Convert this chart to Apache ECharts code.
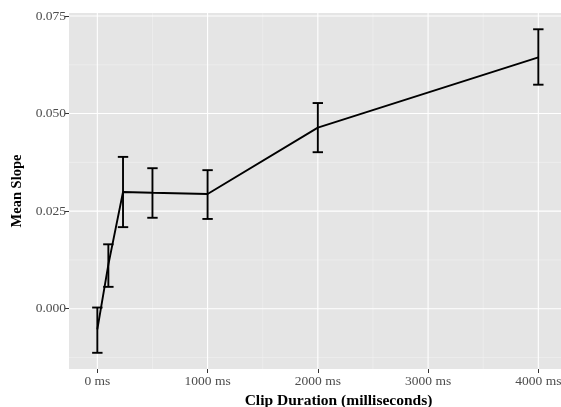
<!DOCTYPE html>
<html>
<head>
<meta charset="utf-8">
<script src="https://cdn.jsdelivr.net/npm/echarts@6/dist/echarts.min.js"></script>
<style>
html,body{margin:0;padding:0;background:#fff;}
#chart{width:561px;height:407px;}
</style>
</head>
<body>
<div id="chart"></div>
<script>
// Data
const durations = [0, 100, 233, 500, 1000, 2000, 4000];
const meanSlope = [-0.0053, 0.0113, 0.0299, 0.0297, 0.0294, 0.0464, 0.0644];
const lowerCI   = [-0.0113, 0.0056, 0.0209, 0.0233, 0.0230, 0.0401, 0.0574];
const upperCI   = [ 0.0003, 0.0165, 0.0389, 0.0360, 0.0355, 0.0527, 0.0716];

const xTicks = [0, 1000, 2000, 3000, 4000];
const xMinor = [500, 1500, 2500, 3500];
const yTicks = [0, 0.025, 0.05, 0.075];
const yMinor = [-0.0125, 0.0125, 0.0375, 0.0625];

const X_MIN = -257, X_MAX = 4632;
const Y_MIN = -0.01545, Y_MAX = 0.07577;

const chart = echarts.init(document.getElementById('chart'), null, {renderer: 'canvas'});

const gridData = [];
xMinor.forEach(v => gridData.push([v, 0, 'x', 'minor']));
yMinor.forEach(v => gridData.push([0, v, 'y', 'minor']));
xTicks.forEach(v => gridData.push([v, 0, 'x', 'major']));
yTicks.forEach(v => gridData.push([0, v, 'y', 'major']));

const font = '"Liberation Serif", "DejaVu Serif", serif';

chart.setOption({
  animation: false,
  grid: {
    left: 69, top: 13, right: -47, bottom: 38,
    containLabel: false,
    outerBoundsMode: 'none',
    show: true, backgroundColor: '#E5E5E5', borderWidth: 0
  },
  xAxis: {
    type: 'value',
    min: X_MIN, max: X_MAX,
    name: 'Clip Duration (milliseconds)',
    nameLocation: 'middle',
    nameGap: 24,
    nameTextStyle: {fontFamily: font, fontWeight: 'bold', fontSize: 15.5, color: '#000'},
    axisLine: {show: false, onZero: false},
    axisTick: {show: true, customValues: xTicks, length: 4, lineStyle: {color: '#333', width: 1}},
    axisLabel: {customValues: xTicks, fontFamily: font, fontSize: 13.5, color: '#4D4D4D', margin: 5,
      formatter: v => v + ' ms'},
    splitLine: {show: false}
  },
  yAxis: {
    type: 'value',
    min: Y_MIN, max: Y_MAX,
    name: 'Mean Slope',
    nameLocation: 'middle',
    nameGap: 43,
    nameRotate: 90,
    nameTextStyle: {fontFamily: font, fontWeight: 'bold', fontSize: 14.5, color: '#000'},
    axisLine: {show: false, onZero: false},
    axisTick: {show: true, customValues: yTicks, length: 4, lineStyle: {color: '#333', width: 1}},
    axisLabel: {customValues: yTicks, fontFamily: font, fontSize: 13.5, color: '#4D4D4D', margin: 3,
      formatter: v => v.toFixed(3)},
    splitLine: {show: false}
  },
  series: [
    {
      type: 'custom',
      z: 1,
      silent: true,
      clip: true,
      data: gridData,
      renderItem: function (params, api) {
        const item = gridData[params.dataIndex];
        const isMajor = item[3] === 'major';
        let p1, p2;
        if (item[2] === 'x') {
          p1 = api.coord([item[0], Y_MIN]);
          p2 = api.coord([item[0], Y_MAX]);
        } else {
          p1 = api.coord([X_MIN, item[1]]);
          p2 = api.coord([X_MAX, item[1]]);
        }
        return {
          type: 'line',
          shape: {x1: p1[0], y1: p1[1], x2: p2[0], y2: p2[1]},
          style: {stroke: isMajor ? '#FFFFFF' : '#F2F2F2', lineWidth: isMajor ? 1.1 : 0.6}
        };
      }
    },
    {
      type: 'line',
      z: 3,
      data: durations.map((d, i) => [d, meanSlope[i]]),
      symbol: 'none',
      lineStyle: {color: '#000', width: 1.9},
      silent: true
    },
    {
      type: 'custom',
      z: 4,
      silent: true,
      data: durations.map((d, i) => [d, lowerCI[i], upperCI[i]]),
      renderItem: function (params, api) {
        const x = api.value(0);
        const lo = api.coord([x, api.value(1)]);
        const hi = api.coord([x, api.value(2)]);
        const hw = 5.2;
        const st = {stroke: '#000', lineWidth: 1.9};
        return {
          type: 'group',
          children: [
            {type: 'line', shape: {x1: lo[0], y1: lo[1], x2: hi[0], y2: hi[1]}, style: st},
            {type: 'line', shape: {x1: lo[0] - hw, y1: lo[1], x2: lo[0] + hw, y2: lo[1]}, style: st},
            {type: 'line', shape: {x1: hi[0] - hw, y1: hi[1], x2: hi[0] + hw, y2: hi[1]}, style: st}
          ]
        };
      }
    }
  ]
});
</script>
</body>
</html>
